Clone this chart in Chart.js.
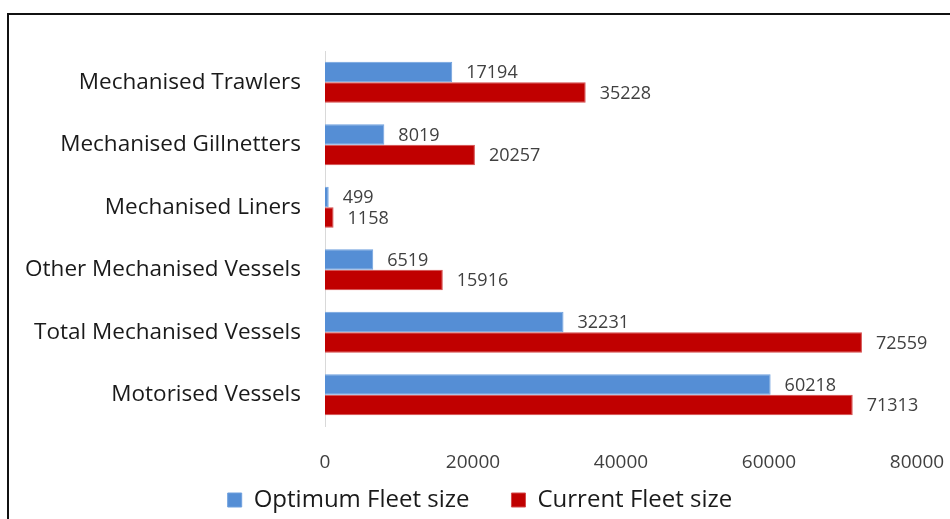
<!DOCTYPE html>
<html>
<head>
<meta charset="utf-8">
<script src="https://cdn.jsdelivr.net/npm/chart.js@4.4.1/dist/chart.umd.min.js"></script>
<style>
  html, body { margin: 0; padding: 0; background: #fff; }
  #wrap { width: 950px; height: 519px; position: relative; }
</style>
</head>
<body>
<div id="wrap"><canvas id="fleetChart"></canvas></div>
<script>
// categories and values
const categories = [
    'Mechanised Trawlers',
    'Mechanised Gillnetters',
    'Mechanised Liners',
    'Other Mechanised Vessels',
    'Total Mechanised Vessels',
    'Motorised Vessels'
];
const optimumFleet = [17194, 8019, 499, 6519, 32231, 60218];
const currentFleet = [35228, 20257, 1158, 15916, 72559, 71313];
const xTicks = [0, 20000, 40000, 60000, 80000];

const FONT = '"Open Sans", "Noto Sans", sans-serif';

// frame lines (top + left only, like the source image)
const framePlugin = {
    id: 'frame',
    beforeDraw(chart) {
        const ctx = chart.ctx;
        ctx.save();
        ctx.strokeStyle = '#111';
        ctx.lineWidth = 2;
        ctx.beginPath();
        ctx.moveTo(8, 519);
        ctx.lineTo(8, 14);
        ctx.lineTo(950, 14);
        ctx.stroke();
        ctx.restore();
    }
};

// value labels at the end of each bar + x tick labels
// (the built-in x labels get clipped to the short axis box, so draw them here)
const labelsPlugin = {
    id: 'labels',
    afterDatasetsDraw(chart) {
        const ctx = chart.ctx;
        ctx.save();
        ctx.font = '18px ' + FONT;
        ctx.fillStyle = '#404040';
        ctx.textAlign = 'left';
        ctx.textBaseline = 'middle';
        chart.data.datasets.forEach((ds, i) => {
            chart.getDatasetMeta(i).data.forEach((bar, j) => {
                ctx.fillText(String(ds.data[j]), bar.x + 14, bar.y + 1);
            });
        });

        const xs = chart.scales.x;
        ctx.font = '19px ' + FONT;
        ctx.textAlign = 'center';
        xTicks.forEach(v => {
            ctx.fillText(String(v), xs.getPixelForValue(v), xs.top + 37);
        });
        ctx.restore();
    }
};

const ctx = document.getElementById('fleetChart').getContext('2d');
new Chart(ctx, {
    type: 'bar',
    data: {
        labels: categories,
        datasets: [{
            label: 'Optimum Fleet size',
            data: optimumFleet,
            backgroundColor: '#558ed5',
            borderColor: '#6fa0de',
            borderWidth: 1
        }, {
            label: 'Current Fleet size',
            data: currentFleet,
            backgroundColor: '#c00000',
            borderColor: '#d44a4a',
            borderWidth: 1
        }]
    },
    options: {
        indexAxis: 'y',
        responsive: true,
        maintainAspectRatio: false,
        animation: false,
        categoryPercentage: 0.655,
        barPercentage: 1,
        // negative right padding moves the full-width legend right;
        // the plot's right edge comes from the x scale padding below
        layout: { padding: { top: 51, right: -10, left: 0, bottom: -3 } },
        scales: {
            x: {
                min: 0,
                max: 80000,
                afterFit: s => { s.height = 20; s.paddingRight = 33; s.paddingLeft = 0; },
                grid: { display: false, drawTicks: false },
                border: { display: false },
                ticks: { display: false, stepSize: 20000 }
            },
            y: {
                afterFit: s => { s.width = 325; },
                grid: { display: false, drawTicks: false },
                border: { display: true, color: '#d9d9d9', width: 1 },
                ticks: {
                    padding: 24,
                    color: '#1a1a1a',
                    font: { family: FONT, size: 22.5 }
                }
            }
        },
        plugins: {
            legend: {
                position: 'bottom',
                labels: {
                    boxWidth: 14,
                    boxHeight: 14,
                    padding: 42,
                    color: '#1a1a1a',
                    font: { family: FONT, size: 24 }
                }
            },
            tooltip: { enabled: false }
        }
    },
    plugins: [framePlugin, labelsPlugin]
});
</script>
</body>
</html>
